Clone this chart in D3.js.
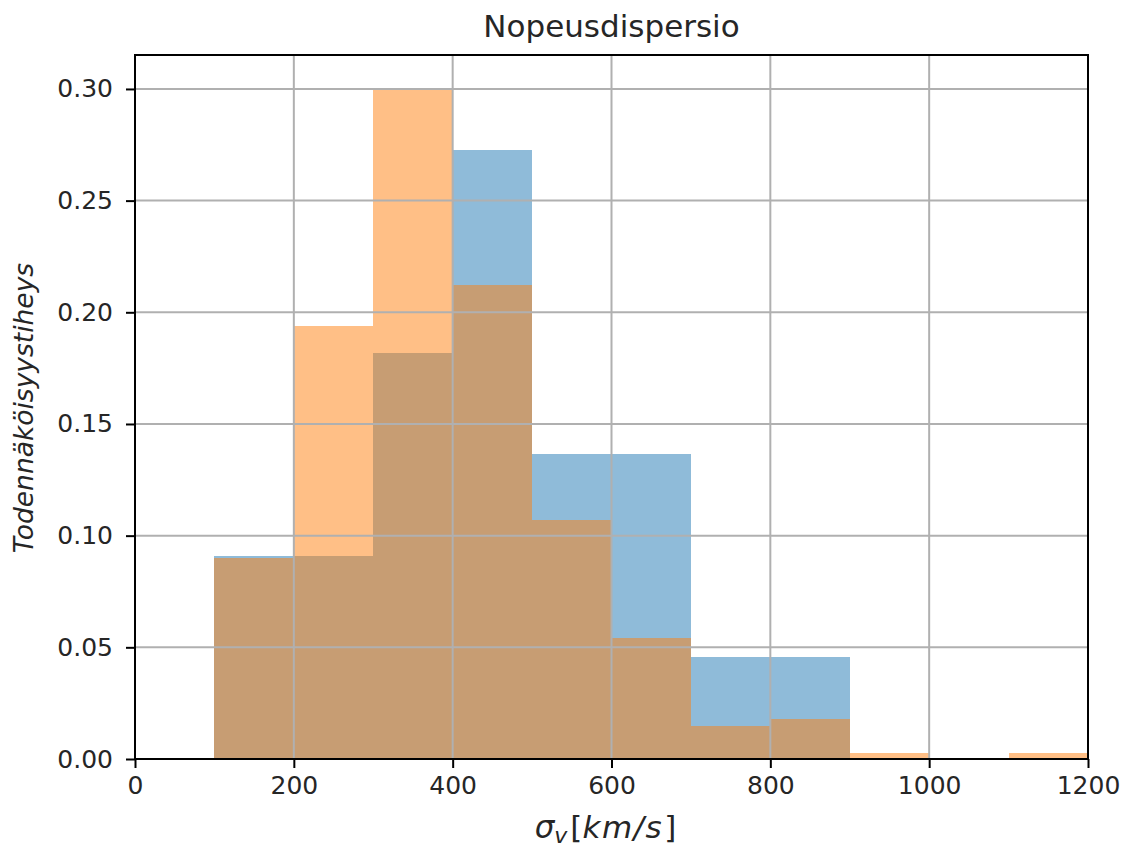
<!DOCTYPE html>
<html>
<head>
<meta charset="utf-8">
<script src="https://cdn.jsdelivr.net/npm/d3@7"></script>
<style>
  body { margin: 0; background: #fff; }
  text { font-family: "DejaVu Sans", sans-serif; fill: #262626; }
</style>
</head>
<body>
<svg id="chart"></svg>
<script>
// histogram bins (left edges, width 100 km/s)
const binEdges = [100, 200, 300, 400, 500, 600, 700, 800, 900, 1000, 1100];
const blueValues = [0.0909, 0.0909, 0.1818, 0.2727, 0.1364, 0.1364, 0.0455, 0.0455, 0, 0, 0];
const orangeValues = [0.0902, 0.1940, 0.2995, 0.2120, 0.1068, 0.0543, 0.0148, 0.0180, 0.0026, 0, 0.0026];
const xTicks = [0, 200, 400, 600, 800, 1000, 1200];
const yTicks = [0, 0.05, 0.10, 0.15, 0.20, 0.25, 0.30];

const width = 1133, height = 851;
const margin = { top: 55, right: 45, bottom: 92, left: 135 };

const svg = d3.select('#chart')
  .attr('width', width)
  .attr('height', height);

const x = d3.scaleLinear()
  .domain([0, 1200])
  .range([margin.left, width - margin.right]);

const y = d3.scaleLinear()
  .domain([0, 0.3152])
  .range([height - margin.bottom, margin.top]);

function drawBars(values, color) {
  svg.append('g')
    .attr('shape-rendering', 'crispEdges')
    .selectAll('rect')
    .data(values.map((v, i) => ({ x0: binEdges[i], v })).filter(d => d.v > 0))
    .join('rect')
      .attr('x', d => Math.round(x(d.x0)))
      .attr('width', d => Math.round(x(d.x0 + 100)) - Math.round(x(d.x0)))
      .attr('y', d => y(d.v))
      .attr('height', d => y(0) - y(d.v))
      .attr('fill', color)
      .attr('fill-opacity', 0.5);
}

drawBars(blueValues, '#1f77b4');
drawBars(orangeValues, '#ff7f0e');

// grid on top of the bars (as in the reference)
const grid = svg.append('g').attr('stroke', '#b0b0b0').attr('stroke-width', 2);
grid.selectAll('.gx').data(xTicks).join('line')
  .attr('x1', d => x(d)).attr('x2', d => x(d))
  .attr('y1', y.range()[0]).attr('y2', y.range()[1]);
grid.selectAll('.gy').data(yTicks).join('line')
  .attr('y1', d => y(d)).attr('y2', d => y(d))
  .attr('x1', x.range()[0]).attr('x2', x.range()[1]);

// axes
svg.append('g')
  .attr('transform', `translate(0,${height - margin.bottom})`)
  .call(d3.axisBottom(x).tickValues(xTicks).tickFormat(d3.format('d')).tickSize(9).tickPadding(8))
  .call(g => g.select('.domain').remove())
  .call(g => g.selectAll('line').attr('stroke', '#000').attr('stroke-width', 2))
  .call(g => g.selectAll('text').attr('font-size', 25).attr('fill', '#262626').attr('font-family', '"DejaVu Sans", sans-serif'));

svg.append('g')
  .attr('transform', `translate(${margin.left},0)`)
  .call(d3.axisLeft(y).tickValues(yTicks).tickFormat(d3.format('.2f')).tickSize(9).tickPadding(13))
  .call(g => g.select('.domain').remove())
  .call(g => g.selectAll('line').attr('stroke', '#000').attr('stroke-width', 2))
  .call(g => g.selectAll('text').attr('font-size', 25).attr('fill', '#262626').attr('font-family', '"DejaVu Sans", sans-serif'));

// frame
svg.append('rect')
  .attr('x', x.range()[0]).attr('y', y.range()[1])
  .attr('width', x.range()[1] - x.range()[0])
  .attr('height', y.range()[0] - y.range()[1])
  .attr('fill', 'none').attr('stroke', '#000').attr('stroke-width', 2);

// title
svg.append('text')
  .attr('x', (x.range()[0] + x.range()[1]) / 2)
  .attr('y', 37)
  .attr('text-anchor', 'middle')
  .attr('font-size', 31)
  .text('Nopeusdispersio');

// x label: sigma_v[km/s]
const xl = svg.append('text')
  .attr('x', (x.range()[0] + x.range()[1]) / 2 - 6)
  .attr('y', 838)
  .attr('text-anchor', 'middle')
  .attr('font-size', 31)
  .attr('font-style', 'italic');
xl.append('tspan').text('σ');
xl.append('tspan').attr('font-size', 22).attr('dy', 5).text('v');
xl.append('tspan').attr('font-style', 'normal').attr('dy', -5).attr('dx', 3).text('[');
xl.append('tspan').attr('letter-spacing', 1.5).text('km/s');
xl.append('tspan').attr('font-style', 'normal').attr('dx', 1).text(']');

// y label
svg.append('text')
  .attr('transform', `translate(33,${(y.range()[0] + y.range()[1]) / 2 + 1}) rotate(-90)`)
  .attr('text-anchor', 'middle')
  .attr('font-size', 26.5)
  .attr('font-style', 'italic')
  .text('Todennäköisyystiheys');
</script>
</body>
</html>
